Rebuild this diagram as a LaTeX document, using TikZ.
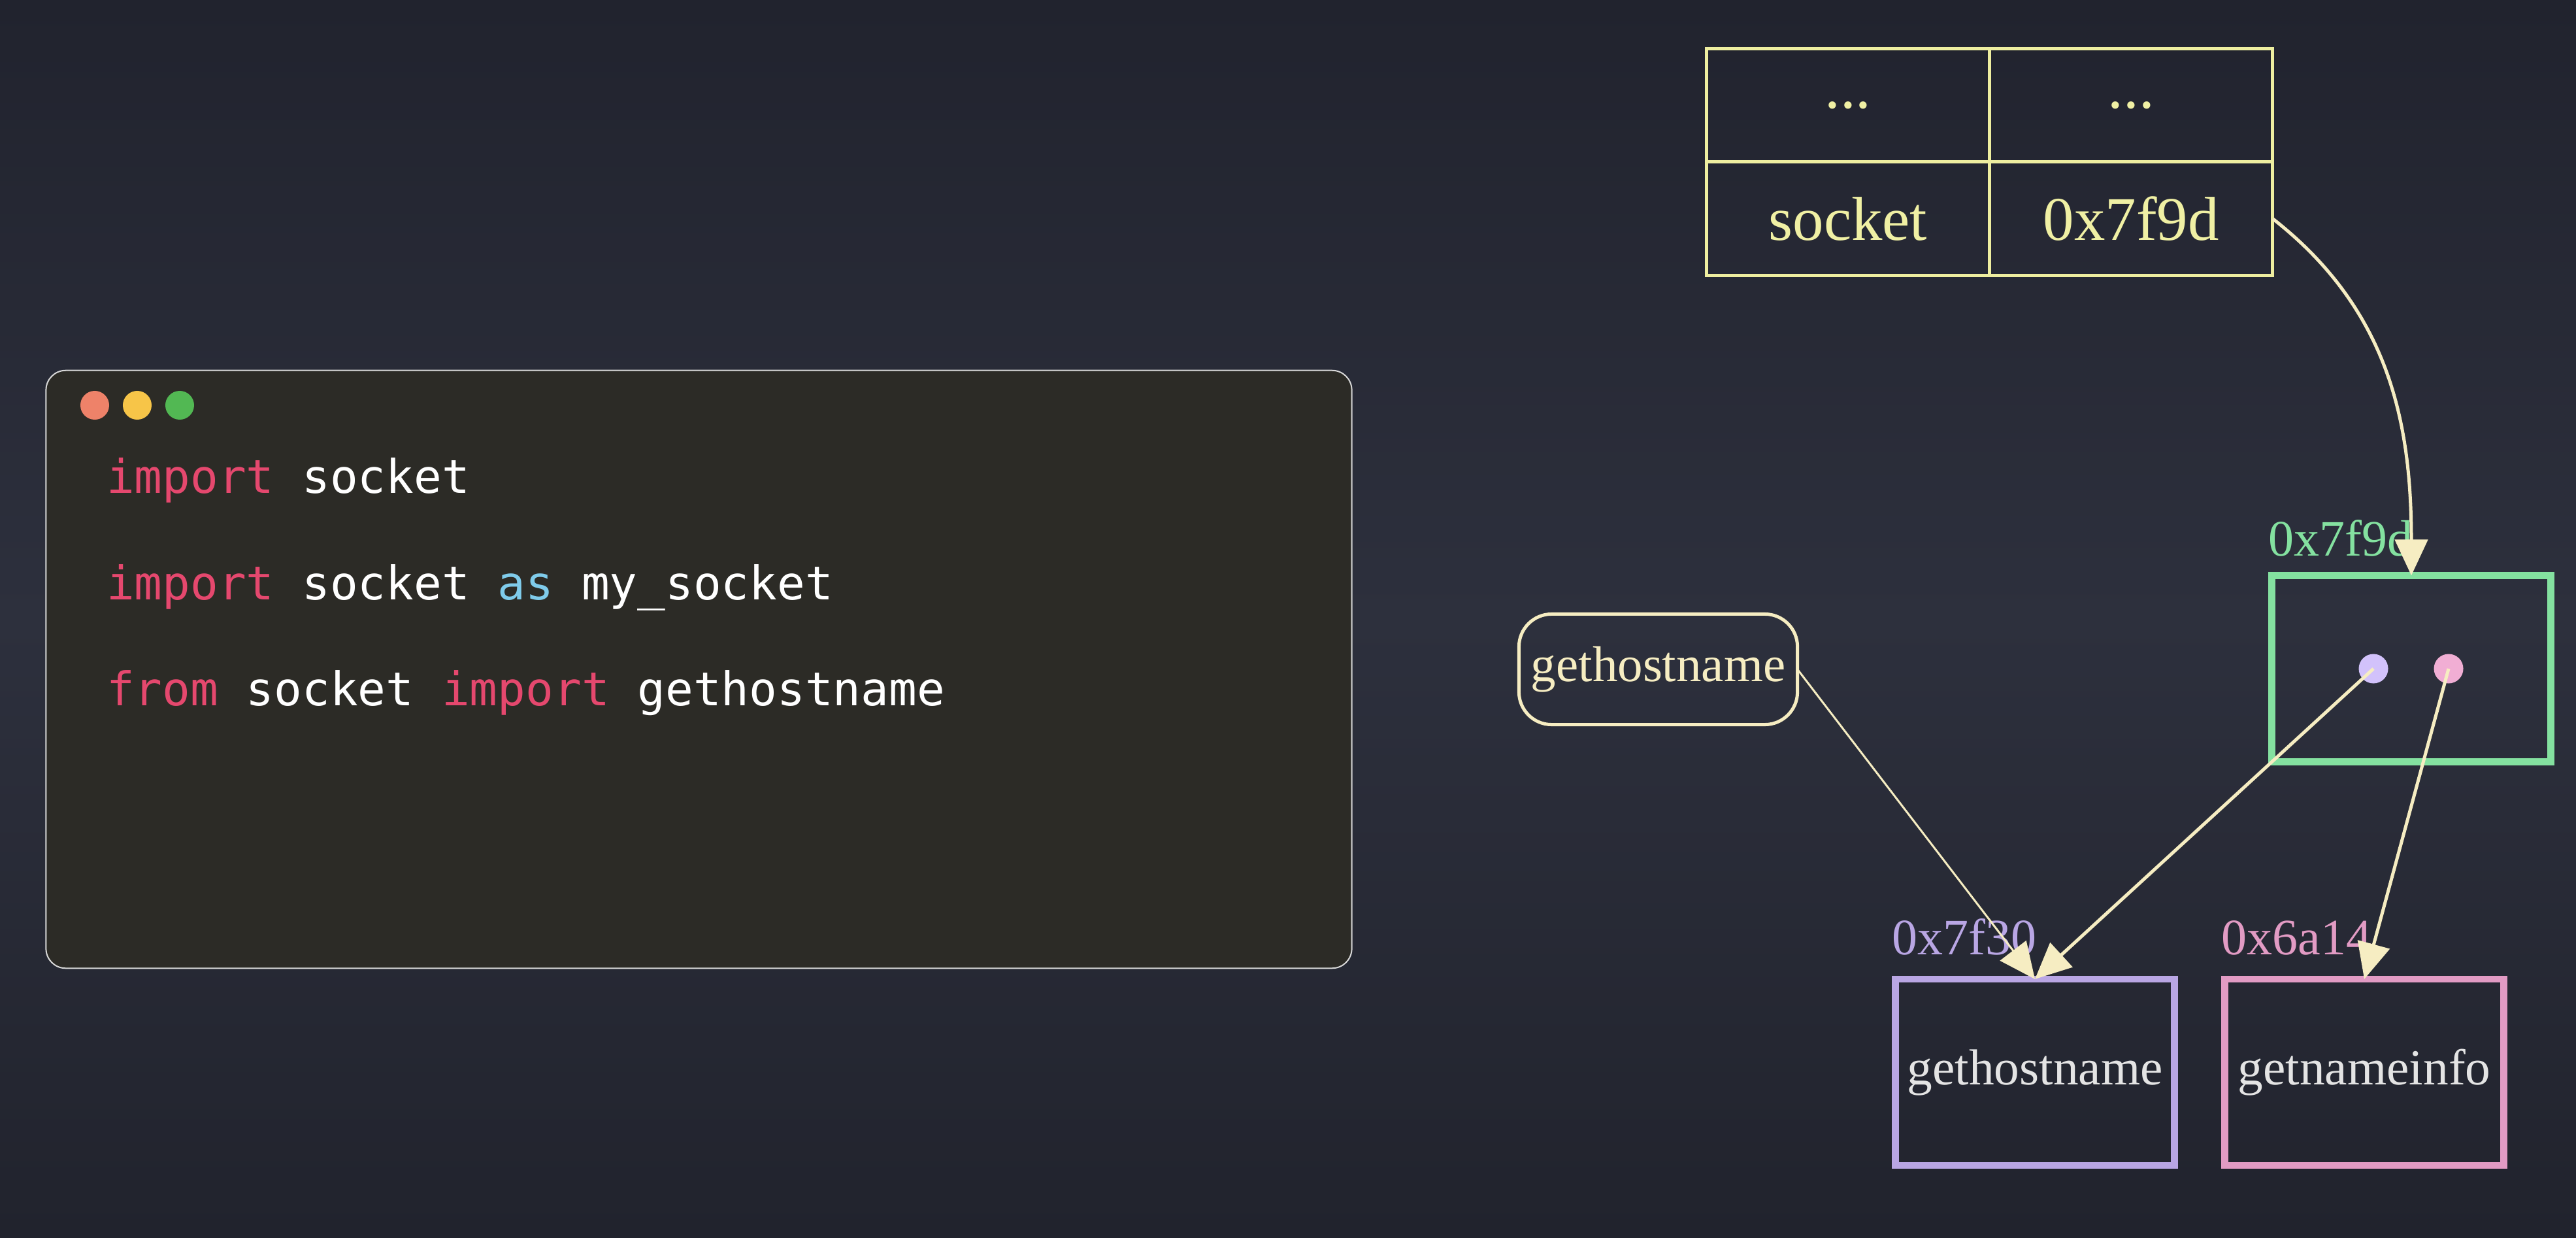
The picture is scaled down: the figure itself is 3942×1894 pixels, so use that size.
\documentclass[tikz,border=0pt]{standalone}
\usepackage{fontspec}
\setmainfont{Liberation Serif}
\newfontfamily\codefont{DejaVu Sans Mono}
\usepackage{xcolor}
\usetikzlibrary{positioning,arrows.meta}
\definecolor{bgtop}{HTML}{21232E}
\definecolor{bgmid}{HTML}{2D303D}
\definecolor{bgbot}{HTML}{21232D}
\definecolor{winbg}{HTML}{2C2B26}
\definecolor{winline}{HTML}{D8D8D8}
\definecolor{kw}{HTML}{E5486E}
\definecolor{kwas}{HTML}{7FCBEA}
\definecolor{dotred}{HTML}{EE8269}
\definecolor{dotyel}{HTML}{F7C548}
\definecolor{dotgrn}{HTML}{52B853}
\definecolor{tblline}{HTML}{EEEEA0}
\definecolor{tbltext}{HTML}{F0F0A4}
\definecolor{cream}{HTML}{F6EDC2}
\definecolor{sockgrn}{HTML}{84E1A0}
\definecolor{fnpur}{HTML}{B9A6E4}
\definecolor{fnpnk}{HTML}{E29BC4}
\definecolor{ptrpur}{HTML}{D2C2FB}
\definecolor{ptrpnk}{HTML}{F1AED4}
\definecolor{fntext}{HTML}{E4E4E4}

\begin{document}
\begin{tikzpicture}[x=0.01cm,y=-0.01cm,
  every node/.style={inner sep=0pt,outer sep=0pt},
  codewin/.style={draw=winline,fill=winbg,line width=0.02cm,rounded corners=0.3cm,
    minimum width=19.97cm,minimum height=9.14cm},
  light/.style={circle,minimum size=0.44cm},
  codeline/.style={anchor=base west,text=white,font=\codefont\fontsize{20.2pt}{24pt}\selectfont},
  cell/.style={draw=tblline,line width=0.05cm,minimum width=4.33cm,minimum height=1.735cm,
    text=tbltext,font=\fontsize{27pt}{32pt}\selectfont},
  objbox/.style={line width=0.105cm,minimum width=4.27cm,minimum height=2.85cm,
    font=\fontsize{22pt}{26pt}\selectfont},
  addr/.style={anchor=base west,font=\fontsize{22.2pt}{26pt}\selectfont},
  ptr/.style={circle,minimum size=0.45cm},
  namebox/.style={draw=cream,line width=0.05cm,rounded corners=0.5cm,minimum width=4.26cm,
    minimum height=1.69cm,text=cream,font=\fontsize{21.9pt}{26pt}\selectfont},
  link/.style={draw=cream,line width=0.05cm,fill=none,-{Triangle[length=0.55cm,width=0.5cm,fill=cream]}}]
  \useasboundingbox (0,0) rectangle (3942,1894);
  \shade[top color=bgtop,bottom color=bgbot,middle color=bgmid] (0,0) rectangle (3942,1894);

  \node[codewin] (win) at (1069.5,1024) {};
  \foreach \c [count=\i] in {dotred,dotyel,dotgrn}
    \node[light,fill=\c] (light\i) at (80+65*\i,620) {};
  \node[codeline] (lineA) at (163,754) {\textcolor{kw}{import} socket};
  \node[codeline] (lineB) at (163,917) {\textcolor{kw}{import} socket \textcolor{kwas}{as} my\_socket};
  \node[codeline] (lineC) at (163,1079) {\textcolor{kw}{from} socket \textcolor{kw}{import} gethostname};

  \node[cell] (keyA) at (2828,161) {...};
  \node[cell,right=0pt of keyA] (valA) {...};
  \node[cell,below=0pt of keyA] (keyB) {socket};
  \node[cell,right=0pt of keyB] (valB) {0x7f9d};

  \node[objbox,draw=sockgrn] (objSock) at (3690,1023) {};
  \node[addr,text=sockgrn] (sockAddr) at ([xshift=-0.05cm,yshift=0.3cm]objSock.north west) {0x7f9d};
  \node[ptr,fill=ptrpur] (slotA) at (3632,1023) {};
  \node[ptr,fill=ptrpnk] (slotB) at (3747,1023) {};

  \node[namebox] (nameRef) at (2537.5,1024) {gethostname};

  \node[objbox,draw=fnpur,text=fntext] (fnA) at (3114,1640.5) {gethostname};
  \node[addr,text=fnpur] (fnAAddr) at ([xshift=-0.05cm,yshift=0.37cm]fnA.north west) {0x7f30};
  \node[objbox,draw=fnpnk,text=fntext] (fnB) at (3618,1640.5) {getnameinfo};
  \node[addr,text=fnpnk] (fnBAddr) at ([xshift=-0.05cm,yshift=0.37cm]fnB.north west) {0x6a14};

  \draw[link] (valB.east) to[out=-38,in=90] (objSock.north);
  \draw[link,line width=0.03cm] (nameRef.east) -- (fnA.north);
  \draw[link] (slotA.center) -- (fnA.north);
  \draw[link] (slotB.center) -- (fnB.north);
\end{tikzpicture}
\end{document}
